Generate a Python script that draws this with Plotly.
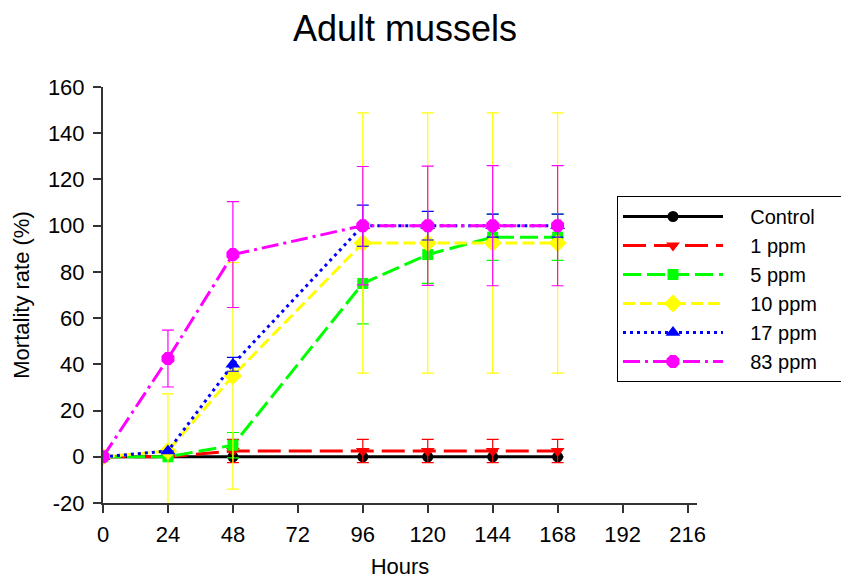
import plotly.graph_objects as go

hours = [0, 24, 48, 96, 120, 144, 168]

series_names = ["Control", "1 ppm", "5 ppm", "10 ppm", "17 ppm", "83 ppm"]
control = [0, 0, 0, 0, 0, 0, 0]
control_err = [0, 0, 0, 0, 0, 0, 0]
ppm1 = [0, 0, 2.5, 2.5, 2.5, 2.5, 2.5]
ppm1_err = [0, 0, 5, 5, 5, 5, 5]
ppm5 = [0, 0, 5, 75, 87.5, 95, 95]
ppm5_err = [0, 0, 5.5, 17.5, 12.5, 10, 10]
ppm10 = [0, 2.5, 35, 92.5, 92.5, 92.5, 92.5]
ppm10_err = [0, 24.7, 49, 56.3, 56.3, 56.3, 56.3]
ppm17 = [0, 2.5, 40, 100, 100, 100, 100]
ppm17_err = [0, 0, 3, 8.9, 6.2, 5, 5]
ppm83 = [0, 42.5, 87.5, 100, 100, 100, 100]
ppm83_err = [0, 12.3, 22.9, 25.6, 25.8, 26, 26]

x_ticks = [0, 24, 48, 72, 96, 120, 144, 168, 192, 216]
y_ticks = [-20, 0, 20, 40, 60, 80, 100, 120, 140, 160]

values = [control, ppm1, ppm5, ppm10, ppm17, ppm83]
errors = [control_err, ppm1_err, ppm5_err, ppm10_err, ppm17_err, ppm83_err]
colors = ["#000000", "#FF0000", "#00FF00", "#FFFF00", "#0000FF", "#FF00FF"]
dashes = ["solid", "23px,8px", "18px,6px", "12px,5px", "3px,4px", "17px,5px,3px,5px"]
symbols = ["circle", "triangle-down", "square", "diamond", "triangle-up", "octagon"]
sizes = [11, 12, 11, 14, 13, 14]

FONT = "Liberation Sans, Arial, sans-serif"
PAD = "\u00a0" * 4

fig = go.Figure()
for name, y, e, c, d, s, sz in zip(series_names, values, errors, colors, dashes, symbols, sizes):
    fig.add_trace(go.Scatter(
        x=hours, y=y, name=PAD + name + PAD, mode="lines+markers",
        line=dict(color=c, width=3, dash=d),
        marker=dict(symbol=s, size=sz, color=c, line=dict(width=0)),
        error_y=dict(type="data", array=e, visible=True, color=c, thickness=1.2, width=6),
    ))

fig.update_layout(
    width=841, height=579,
    margin=dict(l=103, r=144, t=87, b=76, autoexpand=False),
    paper_bgcolor="white", plot_bgcolor="white",
    font=dict(family=FONT, size=22, color="black"),
    title=dict(text="Adult mussels", font=dict(size=36, family=FONT, color="black"),
               x=0.4816, xref="container", xanchor="center",
               y=1 - 28 / 579, yref="container", yanchor="middle"),
    showlegend=True,
    legend=dict(x=(617 - 103) / 594, y=(503 - 196) / 416, xanchor="left", yanchor="top",
                bordercolor="black", borderwidth=1, bgcolor="white",
                font=dict(size=20, family=FONT), itemwidth=100, tracegroupgap=0),
    xaxis=dict(range=[0, 219.5], tickvals=x_ticks, ticktext=[str(v) for v in x_ticks],
               showgrid=False, zeroline=False, showline=True, linecolor="#333333", linewidth=2,
               ticks="outside", ticklen=8, tickcolor="#333333", tickwidth=1.5,
               tickfont=dict(size=22), ticklabelstandoff=3, automargin=False,
               title=dict(text="Hours", font=dict(size=22), standoff=12)),
    yaxis=dict(range=[-20, 160], tickvals=y_ticks, ticktext=[str(v) for v in y_ticks],
               showgrid=False, zeroline=False, showline=True, linecolor="#333333", linewidth=2,
               ticks="outside", ticklen=8, tickcolor="#333333", tickwidth=1.5,
               tickfont=dict(size=22), ticklabelstandoff=4, automargin=False,
               title=dict(text="Mortality rate (%)", font=dict(size=22), standoff=12)),
)

fig.write_html("out.html", config={"displayModeBar": False},
               post_script="document.body.style.margin='0';document.body.style.padding='0';")
